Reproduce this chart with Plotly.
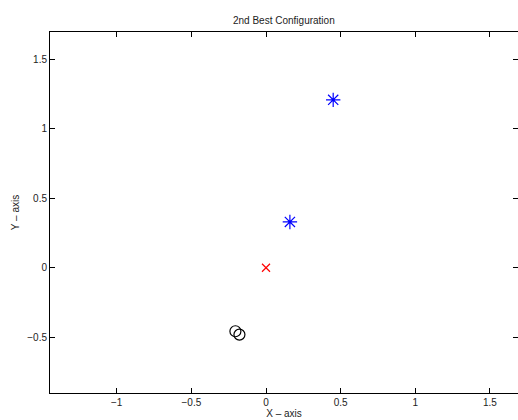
import plotly.graph_objects as go

# Configuration points
star_x = [0.45, 0.16]
star_y = [1.21, 0.33]
origin_x = [0.0]
origin_y = [0.0]
circle_x = [-0.205, -0.178]
circle_y = [-0.458, -0.482]

x_ticks = [-1, -0.5, 0, 0.5, 1, 1.5]
x_tick_text = ["\u22121", "\u22120.5", "0", "0.5", "1", "1.5"]
y_ticks = [-0.5, 0, 0.5, 1, 1.5]
y_tick_text = ["\u22120.5", "0", "0.5", "1", "1.5"]

fig = go.Figure()
fig.add_trace(go.Scatter(
    x=star_x, y=star_y, mode="markers",
    marker=dict(symbol="asterisk-open", size=12, color="#0000ff",
                line=dict(color="#0000ff", width=1.2)),
))
fig.add_trace(go.Scatter(
    x=origin_x, y=origin_y, mode="markers",
    marker=dict(symbol="x-thin-open", size=8, color="#ff0000",
                line=dict(color="#ff0000", width=1.2)),
))
fig.add_trace(go.Scatter(
    x=circle_x, y=circle_y, mode="markers",
    marker=dict(symbol="circle-open", size=11, color="#000000",
                line=dict(color="#000000", width=1.2)),
))

axis_common = dict(
    showgrid=False, zeroline=False, showline=True, linecolor="black",
    linewidth=1, mirror="ticks", ticks="inside", ticklen=5,
    tickcolor="black", tickfont=dict(family="Liberation Sans, Arial", size=10, color="#222"),
)

fig.update_layout(
    width=518, height=420,
    margin=dict(l=50, r=0, t=32, b=27),
    paper_bgcolor="white", plot_bgcolor="white",
    showlegend=False,
    title=dict(text="2nd Best Configuration", x=0.548, xanchor="center",
               y=1 - 20 / 420, yanchor="middle",
               font=dict(family="Liberation Sans, Arial", size=10, color="#222")),
    xaxis=dict(range=[-1.447, 1.688], tickvals=x_ticks, ticktext=x_tick_text,
               title=dict(text="X \u2013 axis", standoff=2,
                          font=dict(family="Liberation Sans, Arial", size=10, color="#222")),
               **axis_common),
    yaxis=dict(range=[-0.903, 1.699], tickvals=y_ticks, ticktext=y_tick_text,
               title=dict(text="Y \u2013 axis", standoff=5,
                          font=dict(family="Liberation Sans, Arial", size=10, color="#222")),
               **axis_common),
)

fig.write_html("out.html")
